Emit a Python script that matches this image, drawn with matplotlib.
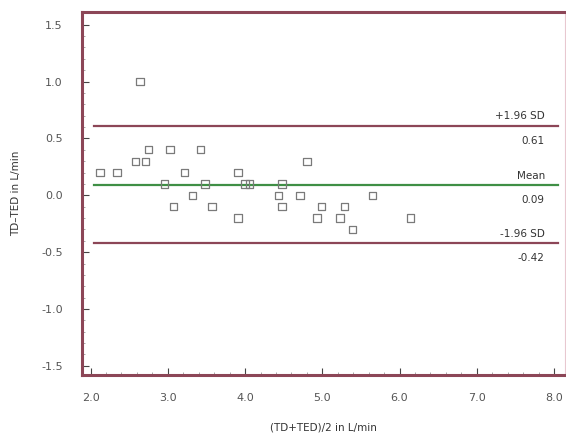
import matplotlib
matplotlib.use('Agg')
import matplotlib.pyplot as plt
import numpy as np
from matplotlib.ticker import MultipleLocator

# mean of TD and TED (x) and difference TD-TED (y), L/min
mean_td_ted = [2.12, 2.34, 2.58, 2.71, 2.64, 2.75, 2.96, 3.03, 3.07, 3.22,
               3.32, 3.42, 3.48, 3.57, 3.91, 3.91, 4.00, 4.06, 4.43, 4.48,
               4.48, 4.71, 4.80, 4.93, 4.99, 5.23, 5.29, 5.39, 5.65, 6.14]
diff_td_ted = [0.2, 0.2, 0.3, 0.3, 1.0, 0.4, 0.1, 0.4, -0.1, 0.2,
               0.0, 0.4, 0.1, -0.1, 0.2, -0.2, 0.1, 0.1, 0.0, 0.1,
               -0.1, 0.0, 0.3, -0.2, -0.1, -0.2, -0.1, -0.3, 0.0, -0.2]

limits = [0.61, 0.09, -0.42]
limit_names = ['+1.96 SD', 'Mean', '-1.96 SD']
limit_labels = ['0.61', '0.09', '-0.42']

maroon = '#8c4657'
green = '#3f8f45'
grey = '#555555'

fig = plt.figure(figsize=(5.66, 4.36), dpi=100)
ax = fig.add_axes([0.145, 0.14, 0.853, 0.832])

ax.scatter(mean_td_ted, diff_td_ted, marker='s', s=28, facecolors='none',
           edgecolors='#7a7a7a', linewidths=0.9, zorder=3)

for val, name, lab in zip(limits, limit_names, limit_labels):
    c = green if name == 'Mean' else maroon
    ax.axhline(val, xmin=0.025, xmax=0.985, color=c, lw=1.6, zorder=2)
    ax.text(7.88, val + 0.04, name, ha='right', va='bottom', fontsize=7.5, color='#333333')
    ax.text(7.88, val - 0.09, lab, ha='right', va='top', fontsize=7.5, color='#333333')

ax.set_xlim(1.89, 8.14)
ax.set_ylim(-1.58, 1.61)
ax.xaxis.set_major_locator(MultipleLocator(1.0))
ax.xaxis.set_minor_locator(MultipleLocator(0.2))
ax.yaxis.set_major_locator(MultipleLocator(0.5))
ax.yaxis.set_minor_locator(MultipleLocator(0.1))
ax.xaxis.set_major_formatter(matplotlib.ticker.FormatStrFormatter('%.1f'))
ax.yaxis.set_major_formatter(matplotlib.ticker.FormatStrFormatter('%.1f'))

ax.tick_params(which='major', direction='in', length=5, color='#444444',
               labelsize=8, labelcolor=grey)
ax.tick_params(axis='y', which='major', pad=14)
ax.tick_params(axis='x', which='major', pad=13)
ax.tick_params(which='minor', direction='in', length=2.5, color='#999999')

for s in ['left', 'bottom', 'top']:
    ax.spines[s].set_color(maroon)
    ax.spines[s].set_linewidth(2.2)
ax.spines['right'].set_color('#e8c8d0')
ax.spines['right'].set_linewidth(0.8)

ax.set_xlabel('(TD+TED)/2 in L/min', fontsize=7.5, color='#333333', labelpad=14)
ax.set_ylabel('TD–TED in L/min', fontsize=7.5, color='#333333', labelpad=14)

fig.savefig('out.png', dpi=100)
